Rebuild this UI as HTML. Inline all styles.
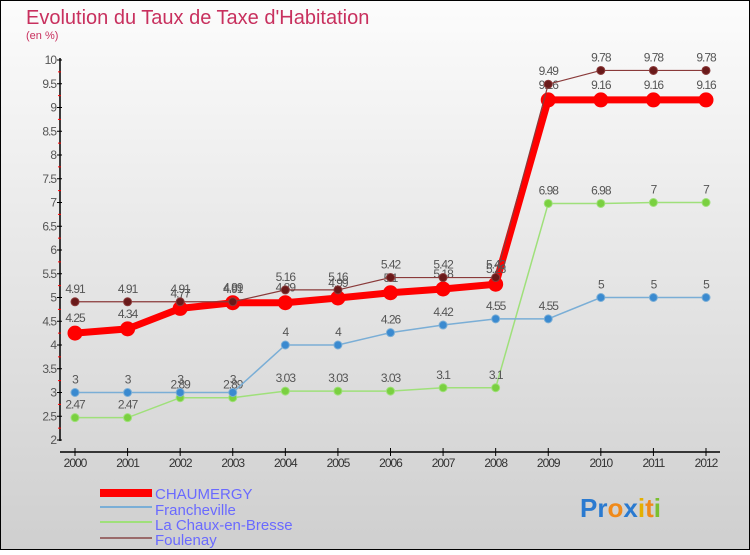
<!DOCTYPE html>
<html><head><meta charset="utf-8"><style>
body{margin:0}
#c{width:750px;height:550px;position:relative;font-family:"Liberation Sans",sans-serif}
</style></head><body>
<div id="c">
<svg id="s" width="750" height="550" xmlns="http://www.w3.org/2000/svg">
<defs><linearGradient id="bg" x1="0" y1="0" x2="0" y2="1"><stop offset="0" stop-color="#fcfcfc"/><stop offset="1" stop-color="#cfcfcf"/></linearGradient></defs>
<rect x="0.5" y="0.5" width="749" height="549" fill="url(#bg)" stroke="#000"/>
<text x="26" y="24" font-size="20" fill="#c8305e">Evolution du Taux de Taxe d'Habitation</text>
<text x="26" y="39" font-size="11" fill="#c8305e">(en %)</text>
<g id="axes"></g><g id="series"></g>
<g>
<rect x="100" y="489" width="52" height="8" fill="#f00"/>
<text x="155" y="499" font-size="15" fill="#6a6aff">CHAUMERGY</text>
<line x1="100" y1="507" x2="152" y2="507" stroke="#7aaed6" stroke-width="2"/>
<text x="155" y="515" font-size="15" fill="#6a6aff">Francheville</text>
<line x1="100" y1="522" x2="152" y2="522" stroke="#9fe07a" stroke-width="2"/>
<text x="155" y="530" font-size="15" fill="#6a6aff">La Chaux-en-Bresse</text>
<line x1="100" y1="538" x2="152" y2="538" stroke="#9a6a6a" stroke-width="2"/>
<text x="155" y="545" font-size="15" fill="#6a6aff">Foulenay</text>
</g>
<text x="580" y="517" font-size="26" font-weight="bold"><tspan fill="#2a7ad0">Pr</tspan><tspan fill="#f08a1a">o</tspan><tspan fill="#2a7ad0">x</tspan><tspan fill="#e4b000">i</tspan><tspan fill="#f08a1a">t</tspan><tspan fill="#7ac030">i</tspan></text>
</svg></div>
<script>
const years=[2000,2001,2002,2003,2004,2005,2006,2007,2008,2009,2010,2011,2012];
const chaumergy=[4.25,4.34,4.77,4.89,4.89,4.99,5.1,5.18,5.28,9.16,9.16,9.16,9.16];
const francheville=[3,3,3,3,4,4,4.26,4.42,4.55,4.55,5,5,5];
const lachaux=[2.47,2.47,2.89,2.89,3.03,3.03,3.03,3.1,3.1,6.98,6.98,7,7];
const foulenay=[4.91,4.91,4.91,4.91,5.16,5.16,5.42,5.42,5.42,9.49,9.78,9.78,9.78];
const yTicks=[2,2.5,3,3.5,4,4.5,5,5.5,6,6.5,7,7.5,8,8.5,9,9.5,10];
const NS="http://www.w3.org/2000/svg";
const X=i=>75+i*(706-75)/12, Y=v=>440-(v-2)*47.5;
function mk(t,a,p){const e=document.createElementNS(NS,t);for(const k in a)e.setAttribute(k,a[k]);p.appendChild(e);return e;}
const ax=document.getElementById('axes');
let l=mk('line',{x1:60,y1:58,x2:60,y2:441,stroke:'#000','stroke-width':1.5},ax);


l=mk('line',{x1:60,y1:452,x2:720,y2:452,stroke:'#000','stroke-width':1.5},ax);


yTicks.forEach(v=>{
  mk('line',{x1:57,y1:Y(v),x2:62,y2:Y(v),stroke:'#000'},ax);
  if(v<10)mk('line',{x1:58,y1:Y(v+0.25),x2:61,y2:Y(v+0.25),stroke:'#f00'},ax);
  const t=mk('text',{x:56,y:Y(v)+4,'font-size':12,fill:'#555','text-anchor':'end','letter-spacing':'-1'},ax);
  t.textContent=String(v);
  
  
});
years.forEach((y,i)=>{
  mk('line',{x1:X(i),y1:448,x2:X(i),y2:456,stroke:'#000'},ax);
  const t=mk('text',{x:X(i),y:467,'font-size':12,fill:'#333','text-anchor':'middle','letter-spacing':'-1'},ax);
  t.textContent=y;
  
  
});
const sg=document.getElementById('series');
function draw(vals,color,w,r,fill,name){
  const g=mk('g',{},sg);
  
  
  const p=mk('polyline',{points:vals.map((v,i)=>X(i)+','+Y(v)).join(' '),fill:'none',stroke:color,'stroke-width':w},g);
  
  
  vals.forEach((v,i)=>{
    const c=mk('circle',{cx:X(i),cy:Y(v),r:r,fill:fill,stroke:color,'stroke-width':1},g);
    
    
    const t=mk('text',{x:X(i),y:Y(v)-9-(r>5?2:0),'font-size':12,fill:'#555','text-anchor':'middle','letter-spacing':'-1'},g);
    t.textContent=String(v);
    
    
  });
}
draw(lachaux,'#9fe07a',1.5,4,'#7ad040','lachaux');
draw(francheville,'#7aaed6',1.5,4,'#3a8ad0','francheville');
draw(chaumergy,'#f00',7,7,'#f00','chaumergy');
draw(foulenay,'#8a3a3a',1.2,4,'#6a1a1a','foulenay');
</script>
</body></html>
